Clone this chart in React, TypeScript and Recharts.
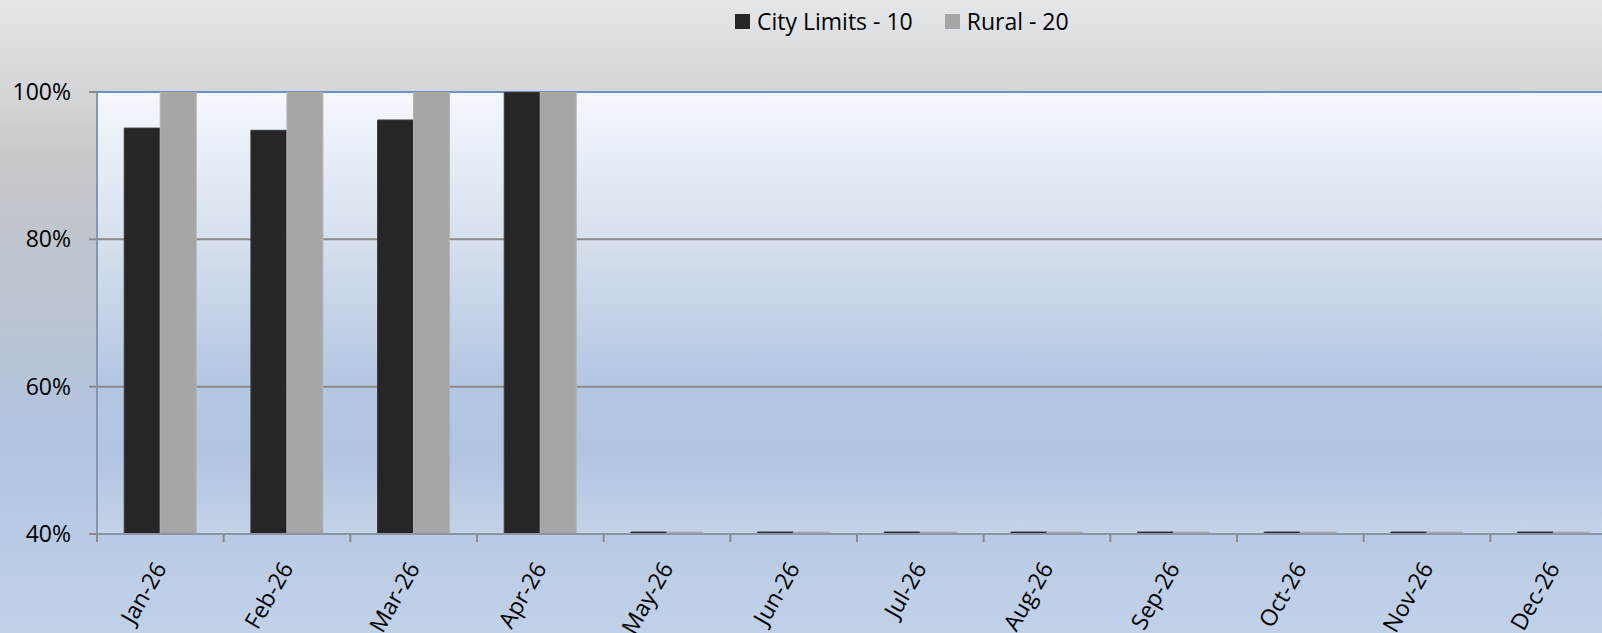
import React from 'react';
import { BarChart, Bar, XAxis, YAxis, CartesianGrid, Legend } from 'recharts';

// months on the category axis
const MONTHS = ['Jan-26', 'Feb-26', 'Mar-26', 'Apr-26', 'May-26', 'Jun-26', 'Jul-26', 'Aug-26', 'Sep-26', 'Oct-26', 'Nov-26', 'Dec-26'];
// share per month; months with no data sit on the 40% floor
const CITY_LIMITS = [0.951, 0.948, 0.962, 1.0, 0.4, 0.4, 0.4, 0.4, 0.4, 0.4, 0.4, 0.4];
const RURAL = [1.0, 1.0, 1.0, 1.0, 0.4, 0.4, 0.4, 0.4, 0.4, 0.4, 0.4, 0.4];
const Y_TICKS = [0.4, 0.6, 0.8, 1.0];
const SERIES = [
  { key: 'city', name: 'City Limits - 10', color: '#262626', edge: '#3a3a3a' },
  { key: 'rural', name: 'Rural - 20', color: '#a6a6a6', edge: '#b4b4b4' }
];

const FONT = '"Open Sans", "Noto Sans", sans-serif';
const CHART_W = 1640;
const CHART_H = 633;
const TOP = 92;
const LEFT = 97;
const RIGHT = 23;
const X_AXIS_H = 99;
const AXIS_Y = CHART_H - X_AXIS_H;
const PLOT_W = CHART_W - LEFT - RIGHT;

const rows = MONTHS.map((m, i) => ({ month: m, city: CITY_LIMITS[i], rural: RURAL[i] }));

const pct = (v: number) => `${Math.round(v * 100)}%`;

const MonthTick = (props: any) => {
  const { x, payload } = props;
  const band = PLOT_W / MONTHS.length;
  const bx = x - band / 2;
  return (
    <g>
      <line x1={bx} x2={bx} y1={AXIS_Y} y2={AXIS_Y + 8} stroke="#8c8c8c" strokeWidth={2} />
      <text
        transform={`translate(${x + 7},${AXIS_Y + 34}) rotate(-60)`}
        textAnchor="end"
        fill="#000"
        fontSize={23}
        fontFamily={FONT}
      >
        {payload.value}
      </text>
    </g>
  );
};

const LegendBox = () => (
  <div style={{ display: 'flex', alignItems: 'center', height: 30, fontFamily: FONT, fontSize: 23, color: '#000', whiteSpace: 'nowrap' }}>
    {SERIES.map((s) => (
      <div key={s.key} style={{ display: 'flex', alignItems: 'center', marginRight: 32 }}>
        <span style={{ display: 'inline-block', width: 15, height: 15, background: s.color, marginRight: 7 }} />
        <span>{s.name}</span>
      </div>
    ))}
  </div>
);

export default function App() {
  return (
    <div
      style={{
        position: 'fixed',
        left: 0,
        top: 0,
        width: 1602,
        height: 633,
        overflow: 'hidden',
        fontFamily: FONT,
        background:
          'linear-gradient(to bottom, #e4e7ea 0%, #d3d5d7 15%, #c6c8cb 25%, #bcc4cf 45%, #b2c4e1 70%, #c1d1e8 100%)'
      }}
    >
      <BarChart
        width={CHART_W}
        height={CHART_H}
        data={rows}
        margin={{ top: TOP, right: RIGHT, bottom: 0, left: 0 }}
        barCategoryGap="21.5%"
        barGap={0}
      >
        <defs>
          <linearGradient id="plotBg" x1="0" y1="0" x2="0" y2="1">
            <stop offset="0%" stopColor="#f5f8fd" />
            <stop offset="35%" stopColor="#d5dfed" />
            <stop offset="65%" stopColor="#b4c7e3" />
            <stop offset="82%" stopColor="#b1c4e2" />
            <stop offset="100%" stopColor="#c4d3e8" />
          </linearGradient>
        </defs>
        <CartesianGrid
          vertical={false}
          horizontalValues={[0.6, 0.8]}
          stroke="#8a8a8a"
          strokeWidth={2}
          fill="url(#plotBg)"
          fillOpacity={1}
        />
        <CartesianGrid vertical={false} horizontalValues={[1.0]} stroke="#7090c0" strokeWidth={2} />
        <XAxis
          dataKey="month"
          height={X_AXIS_H}
          interval={0}
          tickLine={false}
          tick={<MonthTick />}
          axisLine={{ stroke: '#8a96a6', strokeWidth: 2 }}
        />
        <YAxis
          width={LEFT}
          domain={[0.4, 1]}
          ticks={Y_TICKS}
          allowDataOverflow
          tickFormatter={pct}
          tickSize={8}
          tickMargin={18}
          tick={{ fill: '#000', fontSize: 23, fontFamily: FONT }}
          tickLine={{ stroke: '#8c8c8c', strokeWidth: 2 }}
          axisLine={{ stroke: '#8597af', strokeWidth: 2 }}
        />
        <Legend
          layout="horizontal"
          verticalAlign="middle"
          content={<LegendBox />}
          wrapperStyle={{ top: 6, left: 735, width: 'auto' }}
        />
        {SERIES.map((s) => (
          <Bar
            key={s.key}
            dataKey={s.key}
            name={s.name}
            fill={s.color}
            stroke={s.edge}
            strokeWidth={1}
            minPointSize={2}
            isAnimationActive={false}
          />
        ))}
      </BarChart>
    </div>
  );
}
